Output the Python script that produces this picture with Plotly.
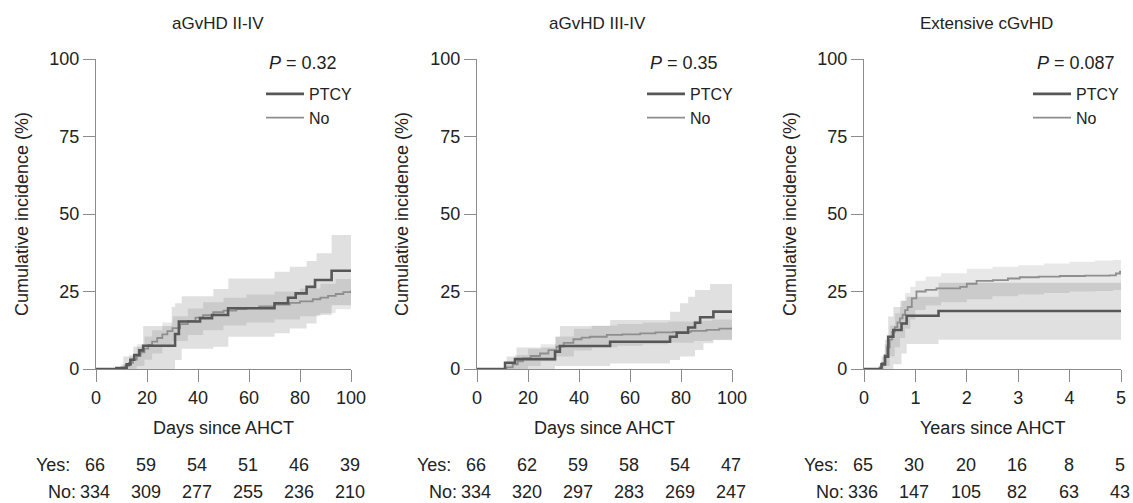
import plotly.graph_objects as go

# ---------------- data ----------------
panel_titles = ["aGvHD II-IV", "aGvHD III-IV", "Extensive cGvHD"]
x_titles = ["Days since AHCT", "Days since AHCT", "Years since AHCT"]
p_values = ["0.32", "0.35", "0.087"]
x_ranges = [[0, 100], [0, 100], [0, 5]]
x_ticks = [[0, 20, 40, 60, 80, 100], [0, 20, 40, 60, 80, 100], [0, 1, 2, 3, 4, 5]]
y_ticks = [0, 25, 50, 75, 100]

at_risk_yes = [[66, 59, 54, 51, 46, 39], [66, 62, 59, 58, 54, 47], [65, 30, 20, 16, 8, 5]]
at_risk_no = [[334, 309, 277, 255, 236, 210], [334, 320, 297, 283, 269, 247], [336, 147, 105, 82, 63, 43]]

# Panel 1: aGvHD II-IV
p1_ptcy_t = [0, 8, 12, 13.5, 15, 17, 18.5, 31, 32.5, 40.8, 45.5, 51.8, 70, 75.3, 78.3, 82.6, 85.9, 92.4, 100]
p1_ptcy_y = [0, 0.3, 1.5, 3, 4.5, 6, 7.5, 11.3, 15.3, 16.4, 17.4, 19.6, 21.2, 23, 24.4, 26.5, 28.7, 31.7, 31.7]
p1_ptcy_band_t = [0, 10.7, 14.6, 18.5, 29.7, 31, 33.6, 46, 51.9, 70, 76, 82.6, 86.5, 92.4, 100]
p1_ptcy_lo = [0, 0, 0, 0, 0, 2.9, 6.5, 7.2, 10.4, 11.5, 13.1, 14.7, 17.4, 20.6, 20.6]
p1_ptcy_hi = [0, 4, 7.2, 13.9, 20, 21.2, 23.5, 25.8, 29.2, 31.4, 33, 34.8, 37.3, 43.2, 43.2]
p1_no_t = [0, 10, 11.5, 13, 14.5, 16, 17.5, 19, 20.5, 22, 24, 26, 28, 30, 33, 36, 39, 42, 46, 50, 55, 59, 64, 70, 76, 80, 85, 88, 91, 94, 97, 100]
p1_no_y = [0, 0.5, 1, 2, 3, 4.2, 5.4, 6.6, 7.8, 8.8, 10, 11.2, 12.2, 13.2, 14.5, 15.5, 16.6, 17.4, 18.3, 18.8, 19.3, 19.7, 20.2, 20.8, 21.3, 21.8, 22.5, 23, 23.6, 24.2, 24.8, 25.3]
p1_no_band_t = [0, 10, 13, 16, 19, 22, 26, 30, 36, 42, 50, 59, 70, 80, 88, 94, 100]
p1_no_lo = [0, 0, 0, 1, 3, 5, 7, 9, 11, 12.5, 14, 15, 16, 17, 18, 19.3, 20.6]
p1_no_hi = [0, 1.5, 4.5, 8, 10.5, 12.5, 15, 17, 19.5, 21.5, 23, 24, 25, 26, 27.5, 29, 30.3]

# Panel 2: aGvHD III-IV
p2_ptcy_t = [0, 11, 14.9, 30.6, 32.5, 52.2, 75.7, 78.3, 82.8, 85.5, 87.5, 92.7, 100]
p2_ptcy_y = [0, 2, 3.2, 5.6, 7.4, 8.8, 10.4, 11.7, 13.4, 14.9, 16.7, 18.5, 18.5]
p2_ptcy_band_t = [0, 11.6, 15.5, 30.6, 32.5, 52.2, 75.7, 79.6, 82.8, 85.5, 88.8, 91.4, 92.7, 100]
p2_ptcy_lo = [0, 0, 0, 1, 1, 1.8, 2.9, 4, 4, 6.1, 8.3, 8.3, 9.4, 9.4]
p2_ptcy_hi = [0, 4, 6.9, 10.4, 13.9, 15.8, 18.5, 21.2, 23.3, 25.5, 25.5, 27.4, 27.4, 27.4]
p2_no_t = [0, 11.6, 14, 16, 18, 21, 24.7, 28, 31.2, 34, 37.8, 41, 44.3, 50.9, 57, 64, 70, 77, 84, 90, 95, 100]
p2_no_y = [0, 0.5, 1.5, 2.5, 3.4, 4.2, 5, 6.1, 7.2, 8.4, 9.6, 10.1, 10.4, 11, 11.2, 11.5, 11.8, 12, 12.3, 12.6, 13, 13.4]
p2_no_band_t = [0, 11.6, 15, 20, 25, 31, 38, 45, 55, 65, 75, 85, 92, 100]
p2_no_lo = [0, 0, 0, 1, 2.5, 4, 6, 7, 7.5, 8, 8.5, 9, 9.3, 9.4]
p2_no_hi = [0, 2, 4.5, 6.5, 8, 10.5, 13, 14, 14.5, 15, 15.3, 15.6, 16, 16.3]

# Panel 3: Extensive cGvHD
p3_ptcy_t = [0, 0.34, 0.41, 0.47, 0.57, 0.73, 0.83, 1.45, 5]
p3_ptcy_y = [0, 1.5, 4, 10.4, 12.6, 14.7, 17.2, 18.7, 18.7]
p3_ptcy_band_t = [0, 0.34, 0.41, 0.47, 0.57, 0.73, 0.83, 1.45, 5]
p3_ptcy_lo = [0, 0, 0, 0, 1.5, 5, 8.1, 9.4, 9.4]
p3_ptcy_hi = [0, 4, 9.4, 16.9, 20, 22, 23.3, 27.8, 27.8]
p3_no_t = [0, 0.3, 0.35, 0.4, 0.45, 0.5, 0.55, 0.6, 0.65, 0.7, 0.75, 0.8, 0.85, 0.93, 1.02, 1.2, 1.41, 1.87, 2.0, 2.19, 2.51, 2.8, 3.03, 3.4, 3.81, 4.3, 4.78, 4.9, 4.98, 5]
p3_no_y = [0, 0.5, 2, 4.5, 7, 9.5, 12, 13.5, 15, 16.3, 17.5, 19, 20, 22.8, 25, 25.5, 26, 26.5, 27.5, 28.4, 28.7, 29.2, 29.6, 29.8, 30, 30.1, 30.2, 30.8, 31.4, 31.4]
p3_no_band_t = [0, 0.3, 0.4, 0.5, 0.6, 0.7, 0.8, 0.9, 1.0, 1.2, 1.5, 2.0, 2.5, 3.0, 3.5, 4.0, 4.5, 4.85, 5]
p3_no_lo = [0, 0, 1, 4, 7, 10, 13, 16, 19, 20.5, 21.5, 22.5, 23.5, 24, 24.5, 25, 25.2, 25.5, 26.5]
p3_no_hi = [0, 1.5, 8, 14, 18, 22, 24.5, 26.5, 28.5, 29.8, 30.9, 32.3, 33, 33.5, 34, 34.6, 35, 35.2, 36.2]

panels = [
    dict(ptcy=(p1_ptcy_t, p1_ptcy_y), ptcy_band=(p1_ptcy_band_t, p1_ptcy_lo, p1_ptcy_hi),
         no=(p1_no_t, p1_no_y), no_band=(p1_no_band_t, p1_no_lo, p1_no_hi)),
    dict(ptcy=(p2_ptcy_t, p2_ptcy_y), ptcy_band=(p2_ptcy_band_t, p2_ptcy_lo, p2_ptcy_hi),
         no=(p2_no_t, p2_no_y), no_band=(p2_no_band_t, p2_no_lo, p2_no_hi)),
    dict(ptcy=(p3_ptcy_t, p3_ptcy_y), ptcy_band=(p3_ptcy_band_t, p3_ptcy_lo, p3_ptcy_hi),
         no=(p3_no_t, p3_no_y), no_band=(p3_no_band_t, p3_no_lo, p3_no_hi)),
]

# ---------------- styling ----------------
W, H = 1133, 503
FONT = "Liberation Sans, Arial, Helvetica, sans-serif"
TXT = "#222222"
AXC = "#8c8c8c"
PTCY_C = "#575757"
NO_C = "#8e8e8e"
PTCY_FILL = "rgba(0,0,0,0.12)"
NO_FILL = "rgba(0,0,0,0.09)"

x_px = [(96, 351), (477, 732), (864, 1121)]
y_px = (59, 369)
legend_left_px = [261, 642, 1028]
p_left_px = [267, 648, 1035]
ptitle_px = [218, 598, 986]
ytitle_px = [22, 402, 790]


def py(p):
    return 1 - p / H


fig = go.Figure()
annotations = []


def txt(x, y, text, xref="paper", xanchor="center", size=18, **kw):
    d = dict(x=x, y=y, xref=xref, yref="paper", text=text, showarrow=False,
             xanchor=xanchor, yanchor="middle", font=dict(size=size, color=TXT, family=FONT))
    d.update(kw)
    annotations.append(d)


for i, pan in enumerate(panels):
    n = "" if i == 0 else str(i + 1)
    xa, ya = "x" + n, "y" + n
    leg = "legend" + n
    # bands
    for key, fc in (("ptcy_band", PTCY_FILL), ("no_band", NO_FILL)):
        t, lo, hi = pan[key]
        fig.add_trace(go.Scatter(x=t, y=lo, mode="lines", line=dict(width=0, shape="hv"),
                                 xaxis=xa, yaxis=ya, showlegend=False, hoverinfo="skip"))
        fig.add_trace(go.Scatter(x=t, y=hi, mode="lines", line=dict(width=0, shape="hv"),
                                 fill="tonexty", fillcolor=fc, xaxis=xa, yaxis=ya,
                                 showlegend=False, hoverinfo="skip"))
    t, y = pan["no"]
    fig.add_trace(go.Scatter(x=t, y=y, mode="lines", name="No", line=dict(color=NO_C, width=1.8, shape="hv"),
                             xaxis=xa, yaxis=ya, legend=leg, legendrank=2))
    t, y = pan["ptcy"]
    fig.add_trace(go.Scatter(x=t, y=y, mode="lines", name="PTCY", line=dict(color=PTCY_C, width=2.6, shape="hv"),
                             xaxis=xa, yaxis=ya, legend=leg, legendrank=1))

    x0, x1 = x_px[i]
    axis_common = dict(ticks="outside", ticklen=12, tickcolor=AXC, tickwidth=1.3,
                       showline=True, linecolor=AXC, linewidth=1.3, showgrid=False, zeroline=False,
                       tickfont=dict(size=18, color=TXT, family=FONT), fixedrange=True, automargin=False)
    fig.update_layout(**{
        "xaxis" + n: dict(domain=[x0 / W, x1 / W], range=x_ranges[i], anchor=ya,
                          tickvals=x_ticks[i], **axis_common),
        "yaxis" + n: dict(domain=[py(y_px[1]), py(y_px[0])], range=[0, 100], anchor=xa,
                          tickvals=y_ticks, **axis_common),
        leg: dict(x=legend_left_px[i] / W, y=py(77), xanchor="left", yanchor="top",
                  bgcolor="rgba(0,0,0,0)", font=dict(size=16, color=TXT, family=FONT),
                  traceorder="normal", itemwidth=38, tracegroupgap=0),
    })

    txt(ptitle_px[i] / W, py(24), panel_titles[i], size=17)
    txt(ytitle_px[i] / W, py(214), "Cumulative incidence (%)", textangle=-90)
    txt((x0 + x1) / 2 / W, py(428), x_titles[i])
    txt(p_left_px[i] / W, py(63), "<i>P</i> = " + p_values[i], xanchor="left")
    txt(x_ranges[i][0], py(465), "Yes:", xref=xa, xanchor="right", xshift=-24)
    txt(x_ranges[i][0], py(492), "No:", xref=xa, xanchor="right", xshift=-18)
    for tv, yv, nv in zip(x_ticks[i], at_risk_yes[i], at_risk_no[i]):
        txt(tv, py(465), str(yv), xref=xa, xshift=-1)
        txt(tv, py(492), str(nv), xref=xa, xshift=-1)

fig.update_layout(template="none", width=W, height=H, autosize=False, margin=dict(l=0, r=0, t=0, b=0, pad=0),
                  paper_bgcolor="white", plot_bgcolor="white", annotations=annotations,
                  font=dict(family=FONT, color=TXT))

fig.write_html("out.html", config={"displayModeBar": False, "responsive": False},
               post_script="document.body.style.margin='0';document.body.style.overflow='hidden';")
